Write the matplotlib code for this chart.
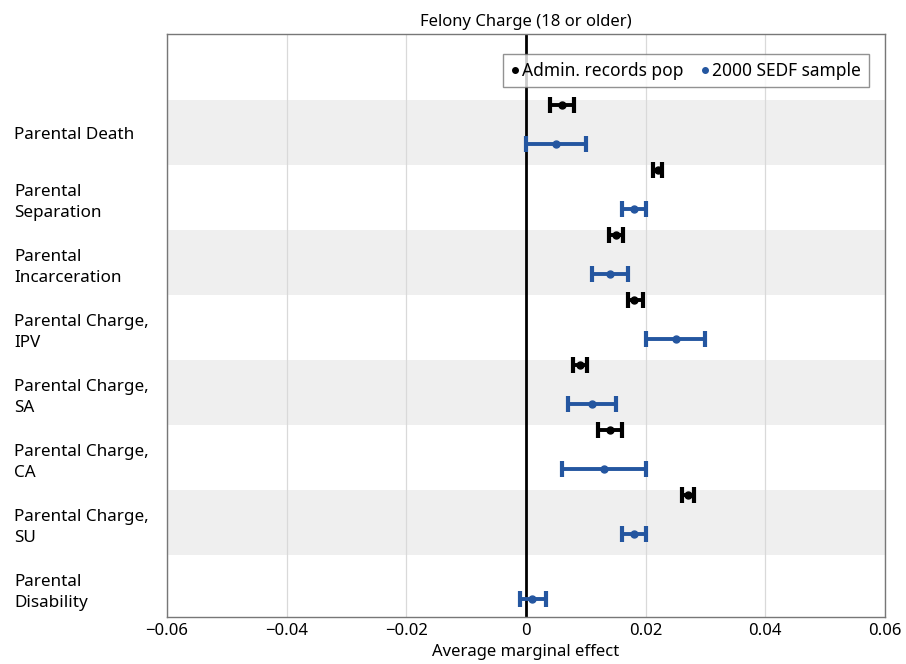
import numpy as np
import matplotlib
matplotlib.use("Agg")
import matplotlib.pyplot as plt
from matplotlib.ticker import FuncFormatter
from matplotlib.lines import Line2D

plt.rcParams['font.family'] = ['Noto Sans', 'DejaVu Sans']

# categories, top to bottom
categories = ["Parental Death", "Parental\nSeparation", "Parental\nIncarceration",
              "Parental Charge,\nIPV", "Parental Charge,\nSA", "Parental Charge,\nCA",
              "Parental Charge,\nSU", "Parental\nDisability"]

# Admin. records pop (point, low, high)
admin_est = [0.006, 0.022, 0.015, 0.018, 0.009, 0.014, 0.027, np.nan]
admin_lo  = [0.004, 0.0213, 0.0138, 0.017, 0.0078, 0.012, 0.026, np.nan]
admin_hi  = [0.008, 0.0227, 0.0162, 0.0195, 0.0102, 0.016, 0.028, np.nan]

# 2000 SEDF sample
sedf_est = [0.005, 0.018, 0.014, 0.025, 0.011, 0.013, 0.018, 0.001]
sedf_lo  = [0.000, 0.016, 0.011, 0.020, 0.007, 0.006, 0.016, -0.001]
sedf_hi  = [0.010, 0.020, 0.017, 0.030, 0.015, 0.020, 0.020, 0.0033]

xticks = [-0.06, -0.04, -0.02, 0, 0.02, 0.04, 0.06]

blue = "#2456a0"

fig = plt.figure(figsize=(9.06, 6.64), dpi=100)
ax = fig.add_axes([0.1843, 0.0708, 0.7925, 0.878])

pos = np.arange(len(categories))

# shaded bands on every other row
for i in pos:
    if i % 2 == 0:
        ax.axhspan(i - 0.5, i + 0.5, color="#efefef", zorder=0, lw=0)

for x in xticks:
    ax.axvline(x, color="#d9d9d9", lw=0.9, zorder=1)
ax.axvline(0, color="black", lw=2, zorder=2)

a_est = np.array(admin_est)
s_est = np.array(sedf_est)
a_err = [a_est - np.array(admin_lo), np.array(admin_hi) - a_est]
s_err = [s_est - np.array(sedf_lo), np.array(sedf_hi) - s_est]

ax.errorbar(a_est, pos - 0.42, xerr=a_err, fmt="o", color="black", ms=5,
            lw=2.8, capsize=5.5, capthick=3, zorder=3)
ax.errorbar(s_est, pos + 0.18, xerr=s_err, fmt="o", color=blue, ms=5,
            lw=2.8, capsize=5.5, capthick=3, zorder=3)

ax.set_xlim(-0.06, 0.06)
ax.set_ylim(7.45, -1.52)
ax.set_xticks(xticks)
ax.xaxis.set_major_formatter(FuncFormatter(
    lambda v, p: "0" if abs(v) < 1e-9 else ("\u2212" + f"{abs(v):g}" if v < 0 else f"{v:g}")))
ax.set_yticks(pos)
ax.set_yticklabels(categories, ha="left", fontsize=12.3, linespacing=1.4)
ax.tick_params(axis="y", length=0, pad=110)
ax.tick_params(axis="x", length=0, pad=4, labelsize=12)

for s in ax.spines.values():
    s.set_color("#777777")
    s.set_linewidth(1)

ax.set_xlabel("Average marginal effect", fontsize=12, labelpad=4)
ax.set_title("Felony Charge (18 or older)", fontsize=12, pad=6)

# legend: markers only
handles = [Line2D([], [], marker="o", color="black", ls="", ms=4),
           Line2D([], [], marker="o", color=blue, ls="", ms=4)]
leg = ax.legend(handles, ["Admin. records pop", "2000 SEDF sample"], ncol=2,
                loc="upper right", bbox_to_anchor=(0.978, 0.966), fontsize=12.5,
                frameon=True, fancybox=False, edgecolor="#777777",
                handlelength=0.4, handletextpad=0.25, columnspacing=1.0,
                borderpad=0.45, borderaxespad=0)
leg.get_frame().set_linewidth(1)

fig.savefig("out.png", dpi=100)
